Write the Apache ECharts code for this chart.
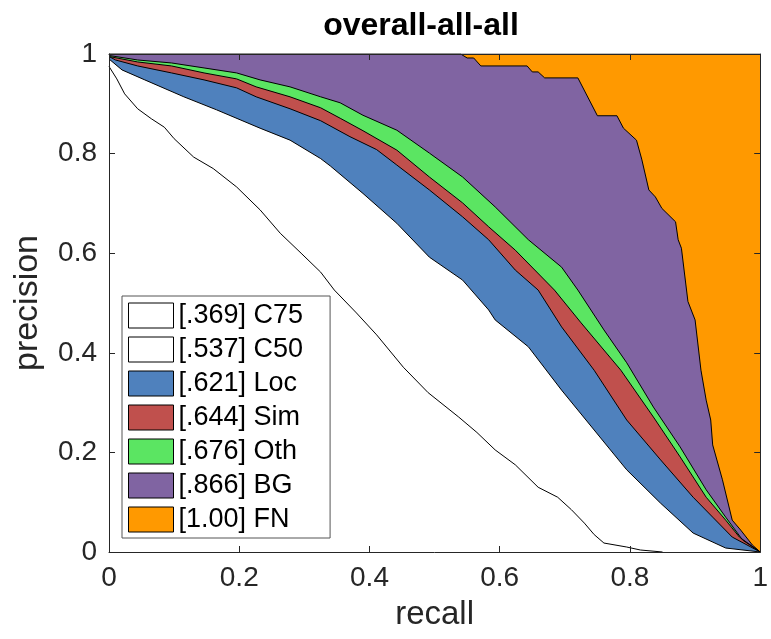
<!DOCTYPE html>
<html>
<head>
<meta charset="utf-8">
<script src="https://cdn.jsdelivr.net/npm/echarts@6/dist/echarts.min.js"></script>
<style>
  html, body { margin: 0; padding: 0; background: #fff; }
  #mychart { width: 771px; height: 639px; }
</style>
</head>
<body>
<div id="mychart"></div>
<script>
"use strict";
// PR curves, [recall, precision] pairs
const c75 = [[0, 0.975], [0.012, 0.95], [0.024, 0.92], [0.044, 0.89], [0.065, 0.87], [0.085, 0.853],
    [0.1, 0.83], [0.13, 0.793], [0.16, 0.77], [0.196, 0.733], [0.232, 0.687], [0.263, 0.64],
    [0.295, 0.6], [0.325, 0.562], [0.346, 0.526], [0.38, 0.48], [0.411, 0.436], [0.452, 0.371],
    [0.49, 0.32], [0.537, 0.271], [0.565, 0.24], [0.593, 0.205], [0.624, 0.175], [0.659, 0.13],
    [0.689, 0.11], [0.71, 0.085], [0.73, 0.058], [0.745, 0.035], [0.76, 0.018], [0.795, 0.01],
    [0.816, 0.004], [0.85, 0]];
const c50 = [[0, 0.99], [0.02, 0.968], [0.055, 0.948], [0.115, 0.914], [0.165, 0.888], [0.232, 0.851],
    [0.278, 0.827], [0.325, 0.79], [0.34, 0.775], [0.39, 0.72], [0.442, 0.66], [0.492, 0.592],
    [0.543, 0.546], [0.583, 0.486], [0.593, 0.466], [0.644, 0.412], [0.695, 0.325], [0.745, 0.245],
    [0.795, 0.165], [0.847, 0.098], [0.897, 0.038], [0.947, 0.008], [1, 0]];
const loc = [[0, 0.995], [0.01, 0.988], [0.044, 0.976], [0.096, 0.962], [0.146, 0.948], [0.196, 0.932],
    [0.226, 0.914], [0.278, 0.89], [0.325, 0.866], [0.37, 0.834], [0.411, 0.808], [0.442, 0.777],
    [0.492, 0.727], [0.543, 0.673], [0.583, 0.627], [0.624, 0.566], [0.659, 0.526], [0.695, 0.452],
    [0.745, 0.365], [0.795, 0.265], [0.847, 0.185], [0.897, 0.11], [0.927, 0.07], [0.957, 0.03], [1, 0]];
const sim = [[0, 0.995], [0.044, 0.984], [0.096, 0.976], [0.146, 0.962], [0.196, 0.95], [0.226, 0.934],
    [0.278, 0.914], [0.325, 0.892], [0.355, 0.871], [0.39, 0.846], [0.442, 0.807], [0.492, 0.753],
    [0.543, 0.701], [0.583, 0.653], [0.624, 0.606], [0.684, 0.526], [0.725, 0.46], [0.786, 0.365],
    [0.836, 0.271], [0.877, 0.191], [0.917, 0.11], [0.947, 0.064], [0.968, 0.03], [1, 0]];
const oth = [[0, 0.997], [0.044, 0.988], [0.096, 0.982], [0.146, 0.972], [0.196, 0.962], [0.232, 0.948],
    [0.278, 0.934], [0.325, 0.914], [0.355, 0.902], [0.39, 0.877], [0.442, 0.847], [0.492, 0.801],
    [0.543, 0.753], [0.593, 0.693], [0.644, 0.627], [0.695, 0.572], [0.72, 0.526], [0.76, 0.446],
    [0.795, 0.38], [0.836, 0.291], [0.877, 0.211], [0.917, 0.125], [0.947, 0.07], [0.973, 0.024], [1, 0]];
const bg = [[0, 1], [0.54, 1], [0.55, 0.992], [0.56, 0.992], [0.571, 0.976], [0.642, 0.976],
    [0.65, 0.964], [0.659, 0.964], [0.669, 0.952], [0.72, 0.952], [0.75, 0.876], [0.78, 0.876],
    [0.79, 0.851], [0.81, 0.827], [0.818, 0.789], [0.829, 0.727], [0.839, 0.713], [0.849, 0.69],
    [0.87, 0.663], [0.874, 0.627], [0.879, 0.61], [0.889, 0.503], [0.9, 0.466], [0.909, 0.365],
    [0.917, 0.305], [0.924, 0.265], [0.927, 0.215], [0.942, 0.145], [0.957, 0.064], [0.97, 0.044],
    [0.988, 0.014], [1, 0]];
const fn = [[0, 1], [1, 1]];

const names = ['[.369] C75', '[.537] C50', '[.621] Loc', '[.644] Sim', '[.676] Oth', '[.866] BG', '[1.00] FN'];
const fills = ['#ffffff', '#ffffff', '#4f81bd', '#c0504d', '#5be562', '#8064a2', '#ff9900'];
const curves = [c75, c50, loc, sim, oth, bg, fn];
const ticks = [0, 0.2, 0.4, 0.6, 0.8, 1];

const FONT = 'Liberation Sans';
const AXIS_COLOR = '#262626';

function fmtTick(v) {
    return ticks.indexOf(v) >= 0 ? String(v) : '';
}

// outermost curve first so inner areas paint over it
const series = [];
for (let i = curves.length - 1; i >= 0; i--) {
    series.push({
        name: names[i],
        type: 'line',
        data: curves[i],
        showSymbol: false,
        symbol: 'none',
        lineStyle: { color: '#000', width: 1 },
        itemStyle: { color: fills[i], borderColor: '#000', borderWidth: 1 },
        areaStyle: { color: fills[i], opacity: 1 },
        z: 2
    });
}

function valueAxis(pos, showLabel) {
    return {
        type: 'value',
        position: pos,
        min: 0,
        max: 1,
        interval: 0.2,
        z: 10,
        axisLine: { show: true, onZero: false, lineStyle: { color: AXIS_COLOR, width: 1 } },
        axisTick: { show: true, inside: true, length: 6, lineStyle: { color: AXIS_COLOR } },
        splitLine: { show: false },
        axisLabel: {
            show: showLabel,
            formatter: fmtTick,
            fontFamily: FONT,
            fontSize: 28,
            color: AXIS_COLOR,
            margin: 12
        }
    };
}

const xBottom = valueAxis('bottom', true);
xBottom.name = 'recall';
xBottom.nameLocation = 'middle';
xBottom.nameGap = 46;
xBottom.nameTextStyle = { fontFamily: FONT, fontSize: 33, color: AXIS_COLOR };
const xTop = valueAxis('top', false);
const yLeft = valueAxis('left', true);
yLeft.name = 'precision';
yLeft.nameLocation = 'middle';
yLeft.nameGap = 64;
yLeft.nameTextStyle = { fontFamily: FONT, fontSize: 34, color: AXIS_COLOR };
const yRight = valueAxis('right', false);

const option = {
    animation: false,
    backgroundColor: '#fff',
    title: {
        text: 'overall-all-all',
        left: 416,
        textAlign: 'center',
        top: 5,
        textStyle: { fontFamily: FONT, fontSize: 32, fontWeight: 'bold', color: '#000' }
    },
    grid: { left: 109, right: 3, top: 54, bottom: 87, containLabel: false },
    xAxis: [xBottom, xTop],
    yAxis: [yLeft, yRight],
    legend: {
        data: names,
        orient: 'vertical',
        left: 122,
        top: 296,
        icon: 'rect',
        itemWidth: 45,
        itemHeight: 25,
        itemGap: 7,
        padding: [6, 27, 5, 6],
        backgroundColor: '#fff',
        borderColor: '#555',
        borderWidth: 1,
        borderRadius: 0,
        selectedMode: false,
        itemStyle: { borderColor: '#000', borderWidth: 1 },
        textStyle: { fontFamily: FONT, fontSize: 27, color: '#000' },
        z: 20
    },
    series: series
};

const container = document.getElementById('mychart');
const myChart = echarts.init(container);
myChart.setOption(option);
</script>
</body>
</html>
